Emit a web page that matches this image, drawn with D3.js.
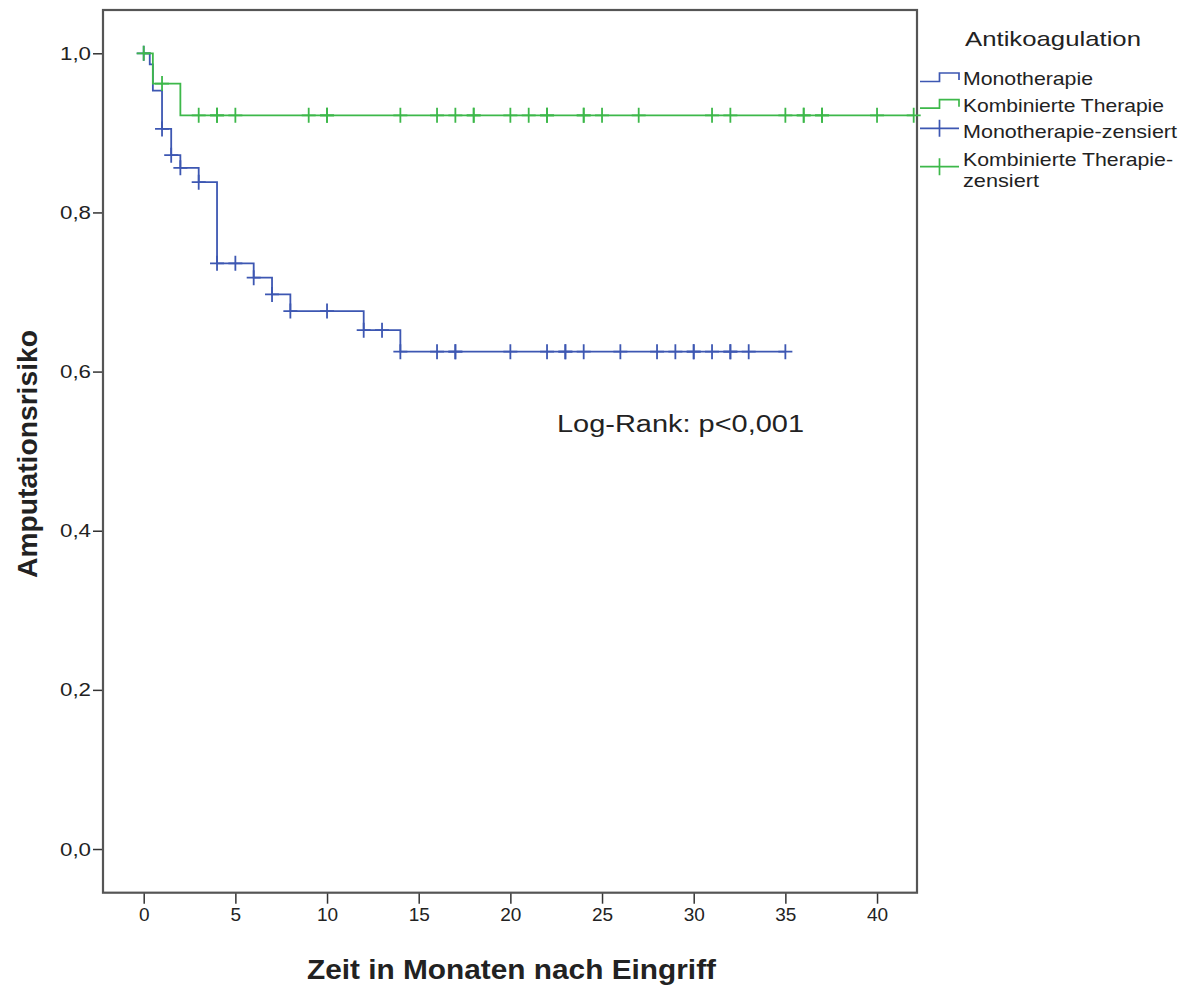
<!DOCTYPE html>
<html>
<head>
<meta charset="utf-8">
<script src="https://cdn.jsdelivr.net/npm/d3@7"></script>
<style>
  body { margin: 0; background: #fff; }
  text { font-family: "Liberation Sans", Arial, sans-serif; fill: #222; }
</style>
</head>
<body>
<svg id="chart"></svg>
<script>
// data
var monoEventTimes = [0.33, 0.5, 1, 1.5, 2, 3, 4, 6, 7, 8, 12, 14];
var monoSurvival = [0.986, 0.953, 0.905, 0.872, 0.856, 0.838, 0.736, 0.718, 0.697, 0.676, 0.652, 0.625];
var monoEnd = 35;
var monoCensored = [0, 1, 1.5, 2, 3, 4, 5, 6, 7, 8, 10, 12, 13, 14, 16, 17, 17, 20, 22, 23, 23, 24, 26, 28, 29, 30, 30, 31, 32, 32, 33, 35];

var kombiEventTimes = [0.5, 2];
var kombiSurvival = [0.962, 0.922];
var kombiEnd = 42;
var kombiCensored = [0, 1, 3, 4, 4, 5, 9, 10, 10, 14, 16, 17, 18, 18, 20, 21, 22, 22, 24, 24, 25, 27, 31, 32, 35, 36, 36, 37, 37, 40, 42];

var xTicks = [0, 5, 10, 15, 20, 25, 30, 35, 40];
var yTicks = [0, 0.2, 0.4, 0.6, 0.8, 1.0];
var legendLabels = ["Monotherapie", "Kombinierte Therapie", "Monotherapie-zensiert", ["Kombinierte Therapie-", "zensiert"]];

var blue = "#3d57b2", green = "#3db84a";

// dimensions
var width = 1193, height = 987;
var plot = {left: 103, right: 917, top: 10, bottom: 892.7};

var svg = d3.select("#chart")
  .attr("width", width)
  .attr("height", height);

var x = d3.scaleLinear()
  .domain([-2.22, 42.18])
  .range([plot.left, plot.right]);

var y = d3.scaleLinear()
  .domain([-0.0549, 1.0544])
  .range([plot.bottom, plot.top]);

// axes
var xAxis = svg.append("g")
  .attr("transform", "translate(0," + plot.bottom + ")")
  .call(d3.axisBottom(x).tickValues(xTicks).tickSize(11).tickPadding(4).tickFormat(d3.format("d")));
xAxis.select(".domain").remove();
xAxis.selectAll("line").attr("stroke", "#333").attr("stroke-width", 1.5);
xAxis.selectAll("text").style("font-size", "19px").attr("fill", "#222");

var yAxis = svg.append("g")
  .attr("transform", "translate(" + plot.left + ",0)")
  .call(d3.axisLeft(y).tickValues(yTicks).tickSize(10).tickPadding(2)
    .tickFormat(function(d) { return d3.format(".1f")(d).replace(".", ","); }));
yAxis.select(".domain").remove();
yAxis.selectAll("line").attr("stroke", "#333").attr("stroke-width", 1.5);
yAxis.selectAll("text")
  .style("font-size", "19px")
  .attr("fill", "#222")
  .attr("textLength", 31)
  .attr("lengthAdjust", "spacingAndGlyphs");

// frame
svg.append("rect")
  .attr("x", plot.left)
  .attr("y", plot.top)
  .attr("width", plot.right - plot.left)
  .attr("height", plot.bottom - plot.top)
  .attr("fill", "none")
  .attr("stroke", "#555")
  .attr("stroke-width", 2.2);

// step curves
var line = d3.line()
  .x(function(d) { return x(d[0]); })
  .y(function(d) { return y(d[1]); })
  .curve(d3.curveStepAfter);

function curvePoints(times, surv, end) {
  var pts = [[0, 1]];
  times.forEach(function(t, i) { pts.push([t, surv[i]]); });
  pts.push([end, surv[surv.length - 1]]);
  return pts;
}

function survAt(times, surv, t) {
  var s = 1;
  times.forEach(function(tt, i) { if (tt <= t) s = surv[i]; });
  return s;
}

function drawGroup(times, surv, end, censored, color) {
  svg.append("path")
    .attr("d", line(curvePoints(times, surv, end)))
    .attr("fill", "none")
    .attr("stroke", color)
    .attr("stroke-width", 1.8);

  svg.append("g")
    .selectAll("path")
    .data(censored)
    .enter()
    .append("path")
    .attr("transform", function(d) {
      return "translate(" + x(d) + "," + y(survAt(times, surv, d)) + ")";
    })
    .attr("d", "M-7,0H7M0,-7.5V7.5")
    .attr("stroke", color)
    .attr("stroke-width", 1.8)
    .attr("fill", "none");
}

drawGroup(monoEventTimes, monoSurvival, monoEnd, monoCensored, blue);
drawGroup(kombiEventTimes, kombiSurvival, kombiEnd, kombiCensored, green);

// annotation
svg.append("text")
  .attr("x", 557)
  .attr("y", 431.5)
  .attr("textLength", 247)
  .attr("lengthAdjust", "spacingAndGlyphs")
  .style("font-size", "23px")
  .text("Log-Rank: p<0,001");

// axis titles
svg.append("text")
  .attr("x", 307)
  .attr("y", 979)
  .attr("textLength", 409)
  .attr("lengthAdjust", "spacingAndGlyphs")
  .style("font-size", "28px")
  .style("font-weight", "bold")
  .attr("fill", "#111")
  .text("Zeit in Monaten nach Eingriff");

svg.append("text")
  .attr("transform", "translate(37,578) rotate(-90)")
  .attr("textLength", 248)
  .attr("lengthAdjust", "spacingAndGlyphs")
  .style("font-size", "28px")
  .style("font-weight", "bold")
  .attr("fill", "#111")
  .text("Amputationsrisiko");

// legend
var legend = svg.append("g");
legend.append("text")
  .attr("x", 965)
  .attr("y", 46)
  .attr("textLength", 176)
  .attr("lengthAdjust", "spacingAndGlyphs")
  .style("font-size", "21px")
  .text("Antikoagulation");

var legendY = [85, 111.7, 138.3, 165.7];
var legendW = [130, 201, 214, 210];
var legendColors = [blue, green, blue, green];

legendLabels.forEach(function(lab, i) {
  var ly = legendY[i];
  if (i < 2) {
    legend.append("path")
      .attr("d", "M920," + (ly - 3.5) + "H939.5V" + (ly - 12) + "H959V" + (ly - 5))
      .attr("fill", "none")
      .attr("stroke", legendColors[i])
      .attr("stroke-width", 1.7);
  } else {
    var cy = i == 2 ? ly - 10 : ly + 1;
    legend.append("path")
      .attr("d", "M920," + cy + "H959M939.5," + (cy - 8.5) + "V" + (cy + 8.5))
      .attr("fill", "none")
      .attr("stroke", legendColors[i])
      .attr("stroke-width", 1.7);
  }
  if (Array.isArray(lab)) {
    legend.append("text")
      .attr("x", 963).attr("y", ly)
      .attr("textLength", legendW[i]).attr("lengthAdjust", "spacingAndGlyphs")
      .style("font-size", "18.5px")
      .text(lab[0]);
    legend.append("text")
      .attr("x", 963).attr("y", 186.7)
      .attr("textLength", 76).attr("lengthAdjust", "spacingAndGlyphs")
      .style("font-size", "18.5px")
      .text(lab[1]);
  } else {
    legend.append("text")
      .attr("x", 963).attr("y", ly)
      .attr("textLength", legendW[i]).attr("lengthAdjust", "spacingAndGlyphs")
      .style("font-size", "18.5px")
      .text(lab);
  }
});
</script>
</body>
</html>
